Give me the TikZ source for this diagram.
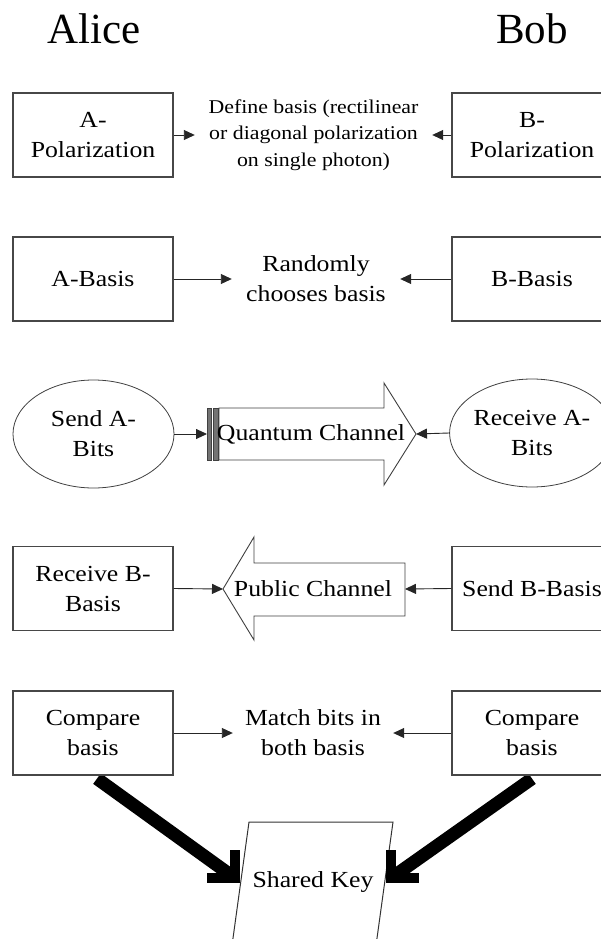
\documentclass[tikz,border=0pt]{standalone}
\usepackage{fontspec}
\setmainfont{Liberation Serif}
\newfontfamily\wideserif{Liberation Serif}[FakeStretch=1.12]
\usetikzlibrary{arrows.meta,shapes.geometric,calc}
\pgfdeclarelayer{background}
\pgfsetlayers{background,main}
\newcommand\myboxfont{\wideserif\fontsize{23}{30}\selectfont}
\newcommand\mysmallfont{\wideserif\fontsize{19.5}{26.5}\selectfont}
\newcommand\mytitlefont{\fontsize{43}{43}\selectfont}
\begin{document}
\begin{tikzpicture}[x=1pt,y=-1pt,
  box/.style={draw=black!72,line width=1.2pt,fill=white,minimum width=160pt,minimum height=84pt,inner sep=0pt,align=center,font=\myboxfont},
  oval/.style={ellipse,draw=black!75,line width=0.8pt,fill=white,minimum width=161pt,minimum height=108pt,inner sep=0pt,align=center,font=\myboxfont},
  lbl/.style={align=center,font=\myboxfont,inner sep=0pt},
  conn/.style={draw=black!85,line width=0.9pt,-{Triangle[length=11pt,width=10pt]}},
  chan/.style={draw=black!75,line width=0.9pt,fill=white},
  heavy/.style={line width=13pt,black},
  heavyhead/.style={line width=10pt,black,line join=miter},
]
\useasboundingbox (0,0) rectangle (601,939);
\clip (0,0) rectangle (601,939);

% titles
\node[font=\mytitlefont,anchor=base,inner sep=0pt] (alice) at (94,44) {Alice};
\node[font=\mytitlefont,anchor=base,inner sep=0pt] (bob) at (532,44) {Bob};

% row 1
\node[box] (apol) at (93,135) {A-\\Polarization};
\node[box] (bpol) at (532,135) {B-\\Polarization};
\node[lbl,font=\mysmallfont,minimum width=237pt] (def) at (313.5,135) {Define basis (rectilinear\\or diagonal polarization\\on single photon)};
\draw[conn] (apol.east) -- (def.west);
\draw[conn] (bpol.west) -- (def.east);

% row 2
\node[box] (abas) at (93,279) {A-Basis};
\node[box] (bbas) at (532,279) {B-Basis};
\node[lbl,minimum width=168pt] (rnd) at (316,279) {Randomly\\chooses basis};
\draw[conn] (abas.east) -- (rnd.west);
\draw[conn] (bbas.west) -- (rnd.east);

% row 3
\node[oval] (senda) at (93.5,434) {Send A-\\Bits};
\node[oval] (recva) at (532,433) {Receive A-\\Bits};
\draw[chan] (219,408) -- (384,408) -- (384,383) -- (416,434) -- (384,485) -- (384,460) -- (219,460) -- cycle;
\draw[draw=black!75,fill=black!55,line width=0.5pt] (207,408) rectangle (211.5,460);
\draw[draw=black!75,fill=black!55,line width=0.5pt] (213.5,408) rectangle (218,460);
\coordinate (qL) at (207,434);
\coordinate (qR) at (416,434);
\node[lbl] (qc) at (311,434) {Quantum Channel};
\draw[conn] (senda.east) -- (qL);
\draw[conn] (recva.west) -- (qR);

% row 4
\node[box] (recvb) at (93,588.5) {Receive B-\\Basis};
\node[box] (sendb) at (532,588.5) {Send B-Basis};
\draw[chan] (405,563) -- (254,563) -- (254,537) -- (223,589) -- (254,640) -- (254,616) -- (405,616) -- cycle;
\coordinate (pL) at (223,589);
\coordinate (pR) at (405,589);
\node[lbl] (pc) at (313,589) {Public Channel};
\draw[conn] (recvb.east) -- (pL);
\draw[conn] (sendb.west) -- (pR);

% row 5
\node[box] (cmpa) at (93,733) {Compare\\basis};
\node[box] (cmpb) at (532,733) {Compare\\basis};
\node[lbl,minimum width=160pt] (match) at (313,733) {Match bits in\\both basis};
\draw[conn] (cmpa.east) -- (match.west);
\draw[conn] (cmpb.west) -- (match.east);

% shared key
\draw[draw=black!80,line width=1pt,fill=white] (249,822) -- (393,822) -- (374,960) -- (230,960) -- cycle;
\node[lbl] (key) at (313,882) {Shared Key};
\coordinate (tipL) at (240,883);
\coordinate (tipR) at (386,883);

\begin{pgfonlayer}{background}
\draw[heavy] ([xshift=4pt,yshift=-3pt]cmpa.south) -- ($(tipL)+(-8,-7)$);
\draw[heavy] ([yshift=-3pt]cmpb.south) -- ($(tipR)+(8,-7)$);
\end{pgfonlayer}
\draw[heavyhead] ($(tipL)+(-5,-33)$) -- ($(tipL)+(-5,-5)$) -- ($(tipL)+(-33,-5)$);
\draw[heavyhead] ($(tipR)+(5,-33)$) -- ($(tipR)+(5,-5)$) -- ($(tipR)+(33,-5)$);
\end{tikzpicture}
\end{document}
